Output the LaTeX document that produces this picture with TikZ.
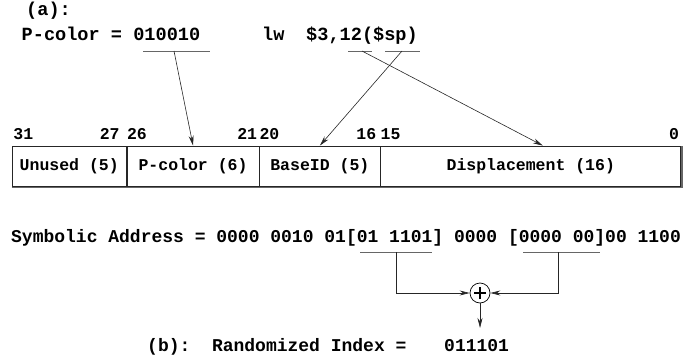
\documentclass[tikz,border=0pt]{standalone}
\usepackage{fontspec}
\setmonofont{Liberation Mono}
\colorlet{lineGray}{black!60}
\newcommand{\bigmono}{\ttfamily\bfseries\fontsize{18.6}{20}\selectfont}
\newcommand{\midmono}{\ttfamily\bfseries\fontsize{18}{20}\selectfont}
\newcommand{\smallmono}{\ttfamily\bfseries\fontsize{16.5}{18}\selectfont}
\usetikzlibrary{calc}
\usetikzlibrary{arrows.meta}

\begin{document}
\begin{tikzpicture}[x=1pt, y=1pt,
  txt/.style={anchor=base west, inner sep=0pt},
  field/.style={draw=black!85, line width=0.8pt, minimum height=40pt, inner sep=0pt, anchor=west, font=\smallmono},
  bitnum/.style={inner sep=0pt, font=\smallmono},
  uline/.style={lineGray, line width=1pt},
  arr/.style={black!85, line width=0.6pt, -{Stealth[length=10pt, width=5pt]}}]
  \useasboundingbox (0,0) rectangle (699,360);

  \node[txt, font=\bigmono] (lbla) at (26,345) {(a):};
  \node[txt, font=\bigmono] (pcol) at (21.5,320) {P-color = 010010};
  \node[txt, font=\bigmono] (lw) at (262,320) {lw};
  \node[txt, font=\bigmono] (args) at (306,320) {\$3,12(\$sp)};

  \draw[uline] (143,309) -- (210,309);
  \draw[uline] (348,309) -- (372,309);
  \draw[uline] (385,309) -- (420,309);
  \coordinate (pcsrc) at (174,309);
  \coordinate (dispsrc) at (362,309);
  \coordinate (basesrc) at (402,309);

  \node[field, minimum width=114.3pt] (unused) at (11.7,194) {Unused (5)};
  \node[field, minimum width=131.7pt] (pcolor) at (unused.east) {P-color (6)};
  \node[field, minimum width=120.3pt] (baseid) at (pcolor.east) {BaseID (5)};
  \node[field, minimum width=300pt] (disp) at (baseid.east) {Displacement (16)};
  \draw[lineGray, line width=1.2pt] ($(unused.south west)+(0,-0.8)$) -- ($(disp.south east)+(0.8,-0.8)$)
    -- ($(disp.north east)+(0.8,0)$);

  \node[bitnum, anchor=base west] (b31) at ($(unused.north west)+(1.5,6)$) {31};
  \node[bitnum, anchor=base east] (b27) at ($(unused.north east)+(-7,6)$) {27};
  \node[bitnum, anchor=base west] (b26) at ($(pcolor.north west)+(0,6)$) {26};
  \node[bitnum, anchor=base east] (b21) at ($(pcolor.north east)+(-2,6)$) {21};
  \node[bitnum, anchor=base west] (b20) at ($(baseid.north west)+(0,6)$) {20};
  \node[bitnum, anchor=base east] (b16) at ($(baseid.north east)+(-4,6)$) {16};
  \node[bitnum, anchor=base west] (b15) at ($(disp.north west)+(0,6)$) {15};
  \node[bitnum, anchor=base east] (b0) at ($(disp.north east)+(-2,6)$) {0};

  \draw[arr] (pcsrc) -- (pcolor.north);
  \draw[arr] (basesrc) -- (baseid.north);
  \draw[arr] (dispsrc) -- ($(disp.north)+(12,0)$);

  \node[txt, font=\midmono] (symaddr) at (11,118) {Symbolic Address = 0000 0010 01[01 1101] 0000 [0000 00]00 1100};

  \draw[uline] (360,108) -- (432,108);
  \draw[uline] (523,108) -- (600,108);
  \coordinate (lsrc) at (396,108);
  \coordinate (rsrc) at (558,108);

  \node[draw, circle, minimum size=20pt, inner sep=0pt, line width=0.7pt] (xor) at (480,67) {};
  \draw[line width=2pt] ($(xor.center)+(-6,0)$) -- ($(xor.center)+(6,0)$)
    ($(xor.center)+(0,-6)$) -- ($(xor.center)+(0,6)$);
  \draw[arr] (lsrc) |- (xor.west);
  \draw[arr] (rsrc) |- (xor.east);
  \coordinate (idxtip) at (480,32);
  \draw[arr] (xor.south) -- (idxtip);

  \node[txt, font=\midmono] (rlbl) at (147,9) {(b):\ \ Randomized Index =};
  \node[txt, font=\midmono] (ridx) at (444,9) {011101};
\end{tikzpicture}
\end{document}
